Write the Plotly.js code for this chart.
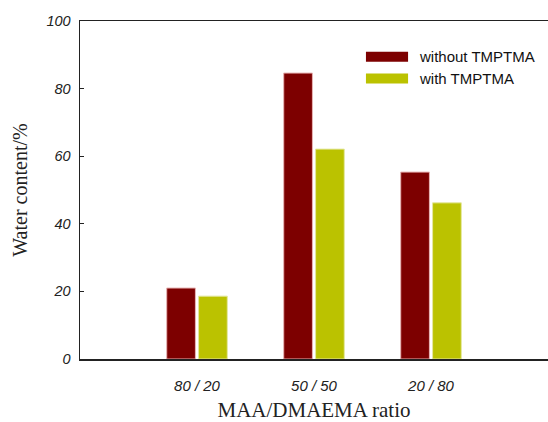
<!DOCTYPE html>
<html>
<head>
<meta charset="utf-8">
<script src="https://cdn.plot.ly/plotly-3.0.1.min.js"></script>
<style>html,body{margin:0;padding:0;background:#fff;}#chart{width:548px;height:422px;}</style>
</head>
<body>
<div id="chart"></div>
<script>
const categories = ["80 / 20", "50 / 50", "20 / 80"];
const withoutTMPTMA = [21.0, 84.6, 55.3];
const withTMPTMA = [18.6, 62.1, 46.2];
const seriesNames = ["without TMPTMA", "with TMPTMA"];
const colors = ["#7d0000", "#bbc200"];
const yTicks = [0, 20, 40, 60, 80, 100];

const sans = "Liberation Sans, Arial, sans-serif";
const xIdx = categories.map((c, i) => i);
const traces = [
  {type: "bar", x: xIdx, y: withoutTMPTMA, name: seriesNames[0],
   marker: {color: colors[0], line: {color: "#e8b4b4", width: 1}}},
  {type: "bar", x: xIdx, y: withTMPTMA, name: seriesNames[1],
   marker: {color: colors[1], line: {color: "#e4e8a0", width: 1}}}
];

const shapes = [];
const annotations = [];
seriesNames.forEach((n, i) => {
  const yc = 0.894 - i * 0.064;
  shapes.push({type: "rect", xref: "paper", yref: "paper",
    x0: 0.611, x1: 0.701, y0: yc - 0.0148, y1: yc + 0.0148,
    fillcolor: colors[i], line: {width: 0}});
  annotations.push({xref: "paper", yref: "paper", x: 0.72, y: yc,
    xanchor: "left", yanchor: "middle", showarrow: false, text: n,
    font: {family: sans, size: 15, color: "#111"}});
});

const layout = {
  width: 548, height: 422,
  margin: {l: 80, r: 0, t: 21, b: 63},
  paper_bgcolor: "#fff", plot_bgcolor: "#fff",
  showlegend: false,
  bargap: 0.455, bargroupgap: 0.1,
  xaxis: {
    range: [-1, 3], tickvals: xIdx, ticktext: categories,
    showgrid: false, zeroline: false, showline: true, linecolor: "#222", linewidth: 1.5,
    mirror: true, ticks: "", ticklabelstandoff: 12,
    tickfont: {family: sans, size: 15, style: "italic", color: "#222"},
    title: {text: "MAA/DMAEMA ratio", standoff: 12,
      font: {family: "Liberation Serif, Times New Roman, serif", size: 21, color: "#222"}}
  },
  yaxis: {
    range: [0, 100], tickvals: yTicks,
    showgrid: false, zeroline: false, showline: true, linecolor: "#222", linewidth: 1.5,
    ticks: "inside", ticklen: 4, tickwidth: 1.2, tickcolor: "#222", ticklabelstandoff: 5,
    tickfont: {family: sans, size: 14.5, style: "italic", color: "#222"},
    title: {text: "Water content/%", standoff: 13,
      font: {family: "Liberation Serif, Times New Roman, serif", size: 20, color: "#222"}}
  },
  shapes: shapes,
  annotations: annotations
};

Plotly.newPlot("chart", traces, layout, {displayModeBar: false, staticPlot: true});
</script>
</body>
</html>
